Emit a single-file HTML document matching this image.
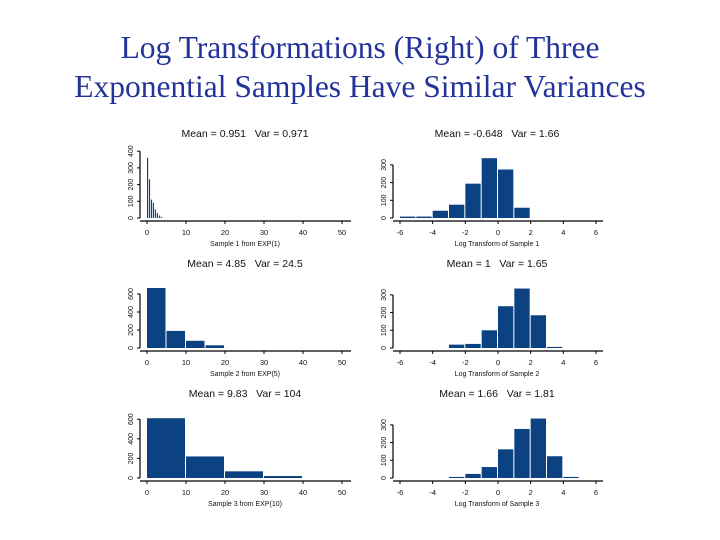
<!DOCTYPE html>
<html><head><meta charset="utf-8"><style>
body{margin:0;background:#fff;width:720px;height:540px;overflow:hidden;}
.t{position:absolute;left:0;width:720px;text-align:center;font-family:"Liberation Serif",serif;font-size:31.5px;line-height:36px;color:#23339a;}
svg{position:absolute;left:0;top:0;}
</style></head><body>
<div class="t" style="top:30px">Log Transformations (Right) of Three</div>
<div class="t" style="top:69px">Exponential Samples Have Similar Variances</div>
<svg id="c" width="720" height="540"></svg>
<script>
// data
const left1Counts=[360,232,110,92,52,30,15,8];
const left1BinWidth=0.5;
const left2Counts=[667,190,80,30];
const left2BinWidth=5;
const left3Counts=[610,220,68,20];
const left3BinWidth=10;
const right1Counts=[8,8,41,75,194,338,274,58];
const right1Start=-6;
const right2Counts=[19,23,100,236,336,185,6];
const right2Start=-3;
const right3Counts=[6,23,62,162,277,336,123,6];
const right3Start=-3;
const leftXTicks=[0,10,20,30,40,50];
const rightXTicks=[-6,-4,-2,0,2,4,6];
const left1YTicks=[0,100,200,300,400];
const left2YTicks=[0,200,400,600];
const left3YTicks=[0,200,400,600];
const rightYTicks=[0,100,200,300];
const titles=["Mean = 0.951\u00a0\u00a0\u00a0Var = 0.971","Mean = -0.648\u00a0\u00a0\u00a0Var = 1.66","Mean = 4.85\u00a0\u00a0\u00a0Var = 24.5","Mean = 1\u00a0\u00a0\u00a0Var = 1.65","Mean = 9.83\u00a0\u00a0\u00a0Var = 104","Mean = 1.66\u00a0\u00a0\u00a0Var = 1.81"];
const xlabels=["Sample 1 from EXP(1)","Log Transform of Sample 1","Sample 2 from EXP(5)","Log Transform of Sample 2","Sample 3 from EXP(10)","Log Transform of Sample 3"];

const svg=document.getElementById('c');
const NS='http://www.w3.org/2000/svg';
function mk(tag,attrs,parent){const e=document.createElementNS(NS,tag);for(const k in attrs)e.setAttribute(k,attrs[k]);(parent||svg).appendChild(e);return e;}
function txt(s,x,y,size,anchor,rot,parent){const e=mk('text',{x:x,y:y,'font-size':size,'text-anchor':anchor||'middle','font-family':'Liberation Sans, sans-serif',fill:'#111'},parent);if(rot)e.setAttribute('transform','rotate(-90 '+x+' '+y+')');e.textContent=s;return e;}

function panel(idx,cfg){
  const g=mk('g',{});
  
  
  const xs=v=>cfg.x0+(v-cfg.xmin)*(cfg.x1-cfg.x0)/(cfg.xmax-cfg.xmin);
  const ys=v=>cfg.base-v*cfg.ppu;
  cfg.counts.forEach((c,i)=>{
    const a=cfg.start+i*cfg.bw,b=a+cfg.bw;
    const r=mk('rect',{x:xs(a),y:ys(c),width:Math.max(xs(b)-xs(a)-(cfg.gap),0.6),height:cfg.base-ys(c),fill:'#0d4282'},g);
    
    
  });
  const ax=mk('line',{x1:cfg.ax,x2:cfg.axEnd,y1:cfg.base+3,y2:cfg.base+3,stroke:'#000','stroke-width':1.2},g);
  
  
  cfg.xticks.forEach(t=>{
    mk('line',{x1:xs(t),x2:xs(t),y1:cfg.base+3,y2:cfg.base+6,stroke:'#000'},g);
    const l=txt(String(t),xs(t),cfg.base+17,7.5,'middle',false,g);
    
    
  });
  const yax=mk('line',{x1:cfg.ax,x2:cfg.ax,y1:cfg.base,y2:ys(cfg.yticks[cfg.yticks.length-1]),stroke:'#000','stroke-width':1.2},g);
  
  
  cfg.yticks.forEach(t=>{
    mk('line',{x1:cfg.ax-3,x2:cfg.ax,y1:ys(t),y2:ys(t),stroke:'#000'},g);
    const l=txt(String(t),cfg.ax-7,ys(t),7,'middle',true,g);
    
    
  });
  const ti=txt(titles[idx],cfg.tx,cfg.base-81,10.5,'middle',false,g);
  
  
  const xl=txt(xlabels[idx],cfg.tx,cfg.base+28,7,'middle',false,g);
  
  
}
const L={x0:147,x1:342,xmin:0,xmax:50,ax:140,axEnd:351,tx:245,xticks:leftXTicks,start:0};
const R={x0:400,x1:596,xmin:-6,xmax:6,ax:393,axEnd:603,tx:497,xticks:rightXTicks,bw:1,gap:1,ppu:0.177,yticks:rightYTicks};
panel(0,Object.assign({},L,{base:218,counts:left1Counts,bw:left1BinWidth,gap:0.8,ppu:0.167,yticks:left1YTicks}));
panel(1,Object.assign({},R,{base:218,counts:right1Counts,start:right1Start}));
panel(2,Object.assign({},L,{base:348,counts:left2Counts,bw:left2BinWidth,gap:1,ppu:0.09,yticks:left2YTicks}));
panel(3,Object.assign({},R,{base:348,counts:right2Counts,start:right2Start}));
panel(4,Object.assign({},L,{base:478,counts:left3Counts,bw:left3BinWidth,gap:1,ppu:0.098,yticks:left3YTicks}));
panel(5,Object.assign({},R,{base:478,counts:right3Counts,start:right3Start}));
</script>
</body></html>
